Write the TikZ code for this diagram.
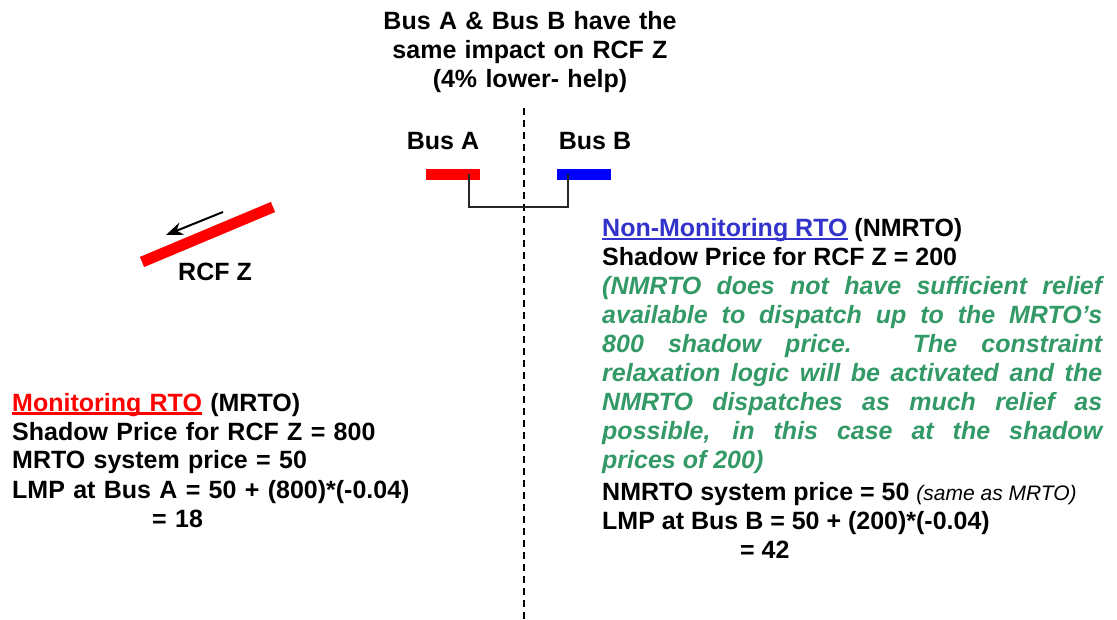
\documentclass[tikz,border=0pt]{standalone}
\usepackage{fontspec}
\setmainfont{Liberation Sans}
\usetikzlibrary{arrows.meta}

\definecolor{mrtored}{RGB}{255,0,0}
\definecolor{busblue}{RGB}{0,0,255}
\definecolor{nmrtoblue}{RGB}{51,51,204}
\definecolor{reliefgreen}{RGB}{51,153,102}

% underline that runs through the descenders
\newcommand{\barunder}[1]{\setbox0\hbox{#1}\rlap{\rule[-3.5pt]{\wd0}{2.5pt}}\box0}

\begin{document}
\begin{tikzpicture}[x=1pt,y=-1pt,
    bigtext/.style={font=\fontsize{25}{29}\selectfont\bfseries,inner sep=0pt},
    busbar/.style={minimum width=54pt,minimum height=11pt,inner sep=0pt},
    tie/.style={line width=2pt,black!85},
    >={Stealth[length=17pt,width=13pt]}]
    \useasboundingbox (0,0) rectangle (1117,620);

    % headline
    \node[bigtext,text width=330pt,align=center,anchor=base] (head) at (530,30)
        {Bus A \& Bus B have the\\ same impact on RCF Z\\ (4\% lower- help)};

    % border between the two RTOs
    \draw[line width=2pt,dash pattern=on 7pt off 5pt] (524,108) -- (524,620);

    % buses
    \node[bigtext,anchor=base] (labA) at (443,150) {Bus A};
    \node[bigtext,anchor=base] (labB) at (595,150) {Bus B};
    \node[busbar,fill=mrtored] (busA) at (453,174.5) {};
    \node[busbar,fill=busblue] (busB) at (584,174.5) {};
    \draw[tie] ([xshift=16pt]busA.center) -- ++(0,32.5) -| ([xshift=-16pt]busB.center);

    % constraint RCF Z
    \draw[mrtored,line width=11pt] (142,262) -- (273,207);
    \draw[->,line width=2pt] (223,212) -- (166,235);
    \node[bigtext,anchor=base] (rcf) at (215,281) {RCF Z};

    % monitoring side
    \node[bigtext,text width=400pt,align=left,anchor=base west] (mrto) at (12,411)
        {\textcolor{mrtored}{\barunder{Monitoring RTO}} (MRTO)\\
         Shadow Price for RCF Z = 800\\
         MRTO system price = 50\\
         LMP at Bus A = 50 + (800)*(-0.04)\\
         \hspace*{140pt}= 18};

    % non-monitoring side
    \node[bigtext,text width=500pt,align=justify,anchor=base west] (nmrto) at (602,237)
        {\textcolor{nmrtoblue}{\barunder{Non-Monitoring RTO}} (NMRTO)\\
         Shadow Price for RCF Z = 200\\
         {\itshape\color{reliefgreen}(NMRTO does not have sufficient relief\linebreak
          available to dispatch up to the MRTO’s\linebreak
          800 shadow price.  The constraint\linebreak
          relaxation logic will be activated and the\linebreak
          NMRTO dispatches as much relief as\linebreak
          possible, in this case at the shadow\linebreak
          prices of 200)}\\[3pt]
         NMRTO system price = 50 {\mdseries\itshape\fontsize{21}{29}\selectfont (same as MRTO)}\\
         LMP at Bus B = 50 + (200)*(-0.04)\\
         \hspace*{138pt}= 42};
\end{tikzpicture}
\end{document}
